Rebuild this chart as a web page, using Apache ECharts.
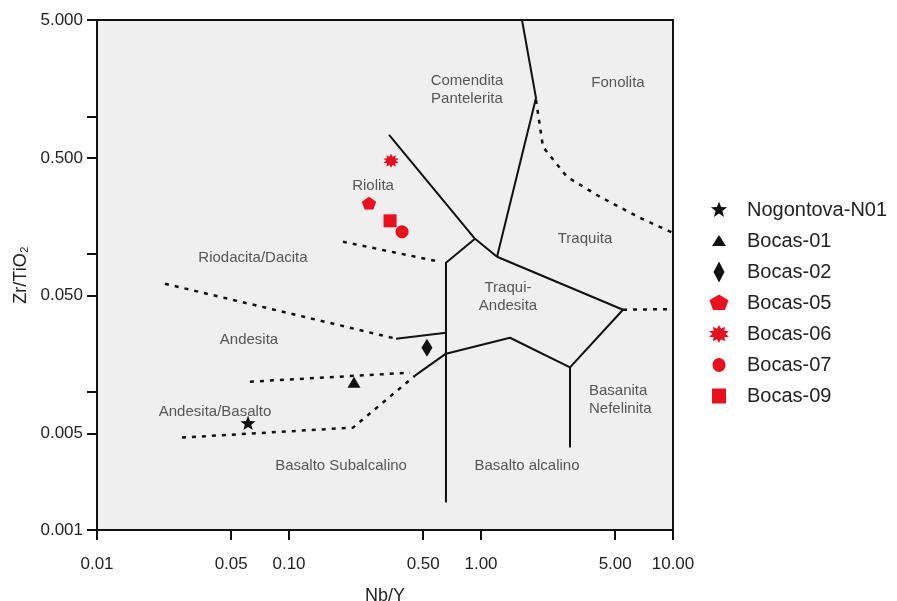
<!DOCTYPE html>
<html><head><meta charset="utf-8">
<script src="https://cdn.jsdelivr.net/npm/echarts@6/dist/echarts.min.js"></script>
<style>html,body{margin:0;padding:0;background:#fff}#c{width:897px;height:601px}</style>
</head><body><div id="c"></div>
<script>
// ---------- Tick values ----------
const xTicks = [0.01, 0.05, 0.1, 0.5, 1, 5, 10];
const yTicks = [0.001, 0.005, 0.01, 0.05, 0.1, 0.5, 1, 5];
const yLabels = [0.001, 0.005, 0.05, 0.5, 5];

// ---------- Samples (Nb/Y, Zr/TiO2) ----------
const sampleNames = ['Nogontova-N01', 'Bocas-01', 'Bocas-02', 'Bocas-05', 'Bocas-06', 'Bocas-07', 'Bocas-09'];
const nogontovaN01 = [[0.0612, 0.00591]];
const bocas01 = [[0.218, 0.0117]];
const bocas02 = [[0.523, 0.0210]];
const bocas05 = [[0.261, 0.232]];
const bocas06 = [[0.340, 0.476]];
const bocas07 = [[0.388, 0.1455]];
const bocas09 = [[0.336, 0.1748]];

// ---------- Field boundaries (solid) ----------
const solid1 = [[1.635, 5.0], [1.934, 1.36], [1.212, 0.0959]];
const solidA = [[0.332, 0.734], [0.931, 0.1294], [1.212, 0.0959]];
const solidB = [[0.931, 0.1294], [0.657, 0.0867], [0.657, 0.00158]];
const solidC = [[1.212, 0.0959], [5.49, 0.0396]];
const solidD = [[5.49, 0.0396], [2.908, 0.0151], [2.908, 0.00396]];
const solidE = [[2.908, 0.0151], [1.416, 0.0248], [0.657, 0.0190], [0.453, 0.01316]];
const solidF = [[0.361, 0.0244], [0.657, 0.0270]];
// ---------- Field boundaries (dashed) ----------
const dash1 = [[0.191, 0.1231], [0.612, 0.0882]];
const dash2 = [[0.0226, 0.0611], [0.361, 0.0244]];
const dash3 = [[0.0626, 0.0119], [0.427, 0.01384]];
const dash4 = [[0.0277, 0.00468], [0.2154, 0.00553], [0.453, 0.01316]];
const dash5 = [[1.934, 1.316], [2.103, 0.601], [2.805, 0.364], [4.166, 0.261], [6.73, 0.1837], [10, 0.143]];
const dash6 = [[5.49, 0.0396], [10, 0.0400]];

// ---------- Field names ----------
const fieldNames = [
  ['Comendita\nPantelerita', 0.845, 1.555],
  ['Fonolita', 5.17, 1.748],
  ['Riolita', 0.274, 0.313],
  ['Traquita', 3.48, 0.129],
  ['Riodacita/Dacita', 0.0649, 0.0943],
  ['Traqui-\nAndesita', 1.382, 0.0492],
  ['Andesita', 0.0619, 0.0240],
  ['Andesita/Basalto', 0.0412, 0.00722],
  ['Basalto Subalcalino', 0.1866, 0.00293],
  ['Basalto alcalino', 1.736, 0.00293],
  ['Basanita\nNefelinita', 3.65, 0.00882]
];

// ---------- symbol geometry ----------
function starPts(n, inner) {
  const p = [];
  for (let i = 0; i < 2 * n; i++) {
    const r = i % 2 ? inner : 1, a = -Math.PI / 2 + i * Math.PI / n;
    p.push([r * Math.cos(a), r * Math.sin(a)]);
  }
  return p;
}
function regPts(n, start) {
  const p = [];
  for (let i = 0; i < n; i++) {
    const a = start + i * 2 * Math.PI / n;
    p.push([Math.cos(a), Math.sin(a)]);
  }
  return p;
}
const shapes = {
  star: starPts(5, 0.42),
  triangle: [[0, -1], [1, 0.85], [-1, 0.85]],
  diamond: [[0, -1], [1, 0], [0, 1], [-1, 0]],
  pentagon: regPts(5, -Math.PI / 2),
  burst: starPts(10, 0.62),
  circle: regPts(28, 0),
  square: [[-1, -1], [1, -1], [1, 1], [-1, 1]]
};
function sym(pts, w, h, boxW, boxH) {
  const cx = boxW / 2, cy = boxH / 2;
  let s = 'path://M0,0 M' + boxW + ',' + boxH + ' ';
  pts.forEach((p, i) => {
    s += (i ? 'L' : 'M') + (cx + p[0] * w / 2).toFixed(2) + ',' + (cy + p[1] * h / 2).toFixed(2) + ' ';
  });
  return s + 'Z';
}
const RED = '#e8101e', BLK = '#111';
const sampleDefs = [
  { name: sampleNames[0], data: nogontovaN01, shape: 'star', color: BLK, size: [16, 16], leg: [17, 17] },
  { name: sampleNames[1], data: bocas01, shape: 'triangle', color: BLK, size: [13, 12], leg: [14, 12] },
  { name: sampleNames[2], data: bocas02, shape: 'diamond', color: BLK, size: [11, 18], leg: [11, 21] },
  { name: sampleNames[3], data: bocas05, shape: 'pentagon', color: RED, size: [15, 14], leg: [20, 17] },
  { name: sampleNames[4], data: bocas06, shape: 'burst', color: RED, size: [16, 14], leg: [21, 18] },
  { name: sampleNames[5], data: bocas07, shape: 'circle', color: RED, size: [13, 13], leg: [13, 14] },
  { name: sampleNames[6], data: bocas09, shape: 'square', color: RED, size: [13, 13], leg: [14, 15] }
];
const LW = 46, LH = 22;

const FONT = '"Liberation Sans", Arial, sans-serif';
const series = [];
function lineSeries(data, dashed) {
  return {
    type: 'line', data: data, symbol: 'none', silent: true, z: 3,
    lineStyle: { color: BLK, width: dashed ? 2.5 : 2, type: dashed ? [4, 6] : 'solid' }
  };
}
[solid1, solidA, solidB, solidC, solidD, solidE, solidF].forEach(d => series.push(lineSeries(d, false)));
[dash1, dash2, dash3, dash4, dash5, dash6].forEach(d => series.push(lineSeries(d, true)));
series.push({
  type: 'scatter', silent: true, symbolSize: 0, z: 4,
  data: fieldNames.map(f => ({
    value: [f[1], f[2]], name: f[0],
    label: f[0].indexOf('Basanita') === 0 ? { position: 'right', distance: 0, align: 'left' } : undefined
  })),
  label: {
    show: true, position: 'inside', formatter: p => p.name,
    fontFamily: FONT, fontSize: 15, color: '#2e2e2e', lineHeight: 18
  }
});
sampleDefs.forEach(s => series.push({
  type: 'scatter', name: s.name, data: s.data, z: 5,
  symbol: sym(shapes[s.shape], s.size[0], s.size[1], s.size[0], s.size[1]),
  symbolSize: s.size,
  itemStyle: { color: s.color, opacity: 1 }
}));

const chart = echarts.init(document.getElementById('c'), null, { renderer: 'canvas' });
chart.setOption({
  animation: false,
  backgroundColor: '#fff',
  grid: {
    left: 97, right: 224, top: 20, bottom: 71, show: true, outerBoundsMode: 'none', containLabel: false,
    backgroundColor: '#efefef', borderColor: BLK, borderWidth: 2
  },
  legend: {
    orient: 'vertical', left: 691, top: 194, itemWidth: LW, itemHeight: LH, itemGap: 9,
    textStyle: { fontFamily: FONT, fontSize: 20, color: '#222', lineHeight: 22 },
    data: sampleDefs.map(s => ({ name: s.name, icon: sym(shapes[s.shape], s.leg[0], s.leg[1], LW, LH) })),
    selectedMode: false
  },
  xAxis: {
    type: 'log', logBase: 10, min: 0.01, max: 10,
    name: 'Nb/Y', nameLocation: 'middle', nameGap: 57,
    nameTextStyle: { fontFamily: FONT, fontSize: 18, color: '#222' },
    axisLine: { show: true, onZero: false, lineStyle: { color: BLK, width: 2 } },
    axisTick: { show: true, length: 10, customValues: xTicks, lineStyle: { color: BLK, width: 2 } },
    axisLabel: {
      customValues: xTicks, margin: 26, fontFamily: FONT, fontSize: 17, color: '#222',
      formatter: v => Number(v).toFixed(2)
    },
    splitLine: { show: false }, minorTick: { show: false }
  },
  yAxis: {
    type: 'log', logBase: 10, min: 0.001, max: 5,
    name: 'Zr/TiO₂', nameLocation: 'middle', nameGap: 65,
    nameTextStyle: { fontFamily: FONT, fontSize: 18, color: '#222' },
    axisLine: { show: true, onZero: false, lineStyle: { color: BLK, width: 2 } },
    axisTick: { show: true, length: 10, customValues: yTicks, lineStyle: { color: BLK, width: 2 } },
    axisLabel: {
      customValues: yLabels, margin: 14, fontFamily: FONT, fontSize: 17, color: '#222',
      formatter: v => Number(v).toFixed(3)
    },
    splitLine: { show: false }, minorTick: { show: false }
  },
  series: series
});
</script>
</body></html>
